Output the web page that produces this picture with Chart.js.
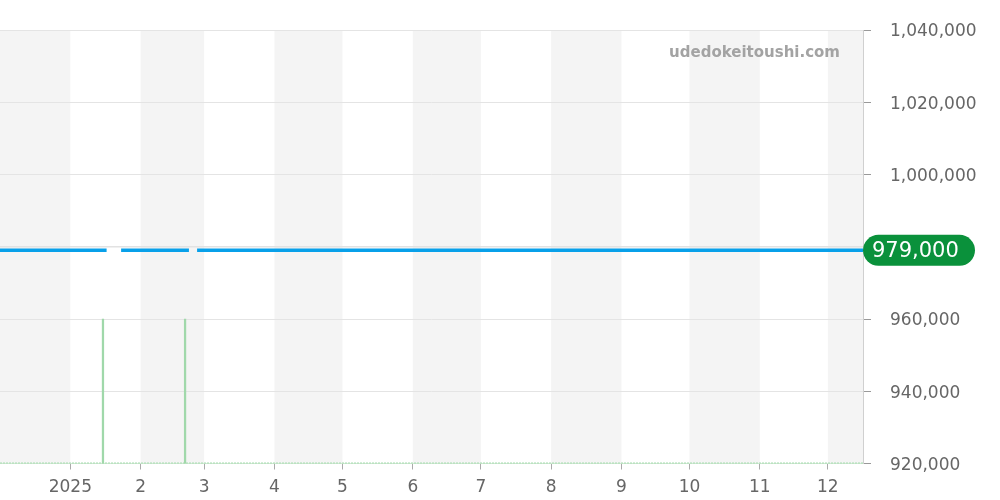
<!DOCTYPE html>
<html><head><meta charset="utf-8">
<script src="https://cdn.jsdelivr.net/npm/chart.js@4"></script>
<style>html,body{margin:0;padding:0;background:#fff}#wrap{width:1000px;height:500px}</style>
</head><body><div id="wrap"><canvas id="c" width="1000" height="500"></canvas></div>
<script>
// Day index 0 = 2024-12-01
const monthStarts = [0, 31, 62, 90, 121, 151, 182, 212, 243, 274, 304, 335, 365];
const monthLabels = ['', '2025', '2', '3', '4', '5', '6', '7', '8', '9', '10', '11', '12'];
const xMin = 0, xMax = 380.5;
const yTicks = [920000, 940000, 960000, 980000, 1000000, 1020000, 1040000];
const priceDays = [0, 47, 47.5, 53.4, 83.3, 85, 86.9, 380.5];
const prices = [979000, 979000, null, 979000, 979000, null, 979000, 979000];
const refDays = [0, 380.5];
const refPrices = [980000, 980000];
const volDays = [45.4, 81.6];
const volValues = [960000, 960000];
const baseDays = [0, 380.5];
const baseValues = [920000, 920000];
const currentPrice = 979000;
const watermark = 'udedokeitoushi.com';

const bandsPlugin = {
  id: 'bands',
  beforeDraw(chart) {
    const {ctx, chartArea: a, scales: {x}} = chart;
    ctx.save();
    ctx.fillStyle = '#f4f4f4';
    const edges = monthStarts.concat([xMax]);
    for (let i = 0; i < edges.length - 1; i += 2) {
      const x0 = x.getPixelForValue(edges[i]);
      const x1 = x.getPixelForValue(Math.min(edges[i + 1], xMax));
      ctx.fillRect(x0, a.top, x1 - x0, a.bottom - a.top);
    }
    ctx.restore();
  }
};
const overlayPlugin = {
  id: 'overlay',
  afterDraw(chart) {
    const {ctx, chartArea: a, scales: {y}} = chart;
    ctx.save();
    ctx.font = 'bold 15px "DejaVu Sans"';
    ctx.fillStyle = '#a3a3a3';
    ctx.textAlign = 'right';
    ctx.textBaseline = 'middle';
    ctx.fillText(watermark, 840, 53);
    const py = y.getPixelForValue(currentPrice);
    const x0 = a.right, w = 112, h = 31, r = 15.5;
    ctx.fillStyle = '#0a913b';
    ctx.beginPath();
    ctx.roundRect(x0, py - h / 2, w, h, r);
    ctx.fill();
    ctx.fillStyle = '#fff';
    ctx.font = '21px "DejaVu Sans"';
    ctx.textAlign = 'left';
    ctx.fillText(currentPrice.toLocaleString('en-US'), x0 + 9, py + 1);
    ctx.restore();
  }
};

new Chart(document.getElementById('c'), {
  data: {
    datasets: [
      {type: 'line', data: refDays.map((d, i) => ({x: d, y: refPrices[i]})), borderColor: '#e2e2e2', borderWidth: 1.5, pointRadius: 0, order: 5},
      {type: 'line', data: baseDays.map((d, i) => ({x: d, y: baseValues[i]})), borderColor: '#a8dcb0', borderWidth: 2, borderDash: [2, 1], pointRadius: 0, order: 4},
      {type: 'bar', data: volDays.map((d, i) => ({x: d, y: volValues[i]})), backgroundColor: '#a0d8aa', barThickness: 1.6, order: 3},
      {type: 'line', data: priceDays.map((d, i) => ({x: d, y: prices[i]})), borderColor: '#08a0e9', borderWidth: 3.5, pointRadius: 0, spanGaps: false, order: 1}
    ]
  },
  options: {
    responsive: false, animation: false,
    layout: {padding: {top: 30, left: 0, right: 0, bottom: 0}},
    plugins: {legend: {display: false}, tooltip: {enabled: false}},
    scales: {
      x: {
        type: 'linear', min: xMin, max: xMax, offset: false,
        afterBuildTicks(s) { s.ticks = monthStarts.slice(1).map(v => ({value: v})); },
        afterFit(s) { s.height = 36.5; },
        ticks: {autoSkip: false, maxRotation: 0, padding: 8, color: '#666', font: {family: 'DejaVu Sans', size: 17},
          callback(v) { const i = monthStarts.indexOf(v); return i >= 0 ? monthLabels[i] : ''; }},
        grid: {offset: false, drawOnChartArea: false, drawTicks: true, tickLength: 6, tickColor: '#aaa'},
        border: {color: '#cfe8d3'}
      },
      y: {
        position: 'right', min: 920000, max: 1040000,
        afterBuildTicks(s) { s.ticks = yTicks.map(v => ({value: v})); },
        afterFit(s) { s.width = 137; },
        ticks: {padding: 19, labelOffset: 2, color: '#666', font: {family: 'DejaVu Sans', size: 17, lineHeight: 1.0},
          callback(v) { return v.toLocaleString('en-US'); }},
        grid: {color: '#e4e4e4', tickLength: 8, tickColor: '#999'},
        border: {color: '#d0d0d0'}
      }
    }
  },
  plugins: [bandsPlugin, overlayPlugin]
});
</script></body></html>
